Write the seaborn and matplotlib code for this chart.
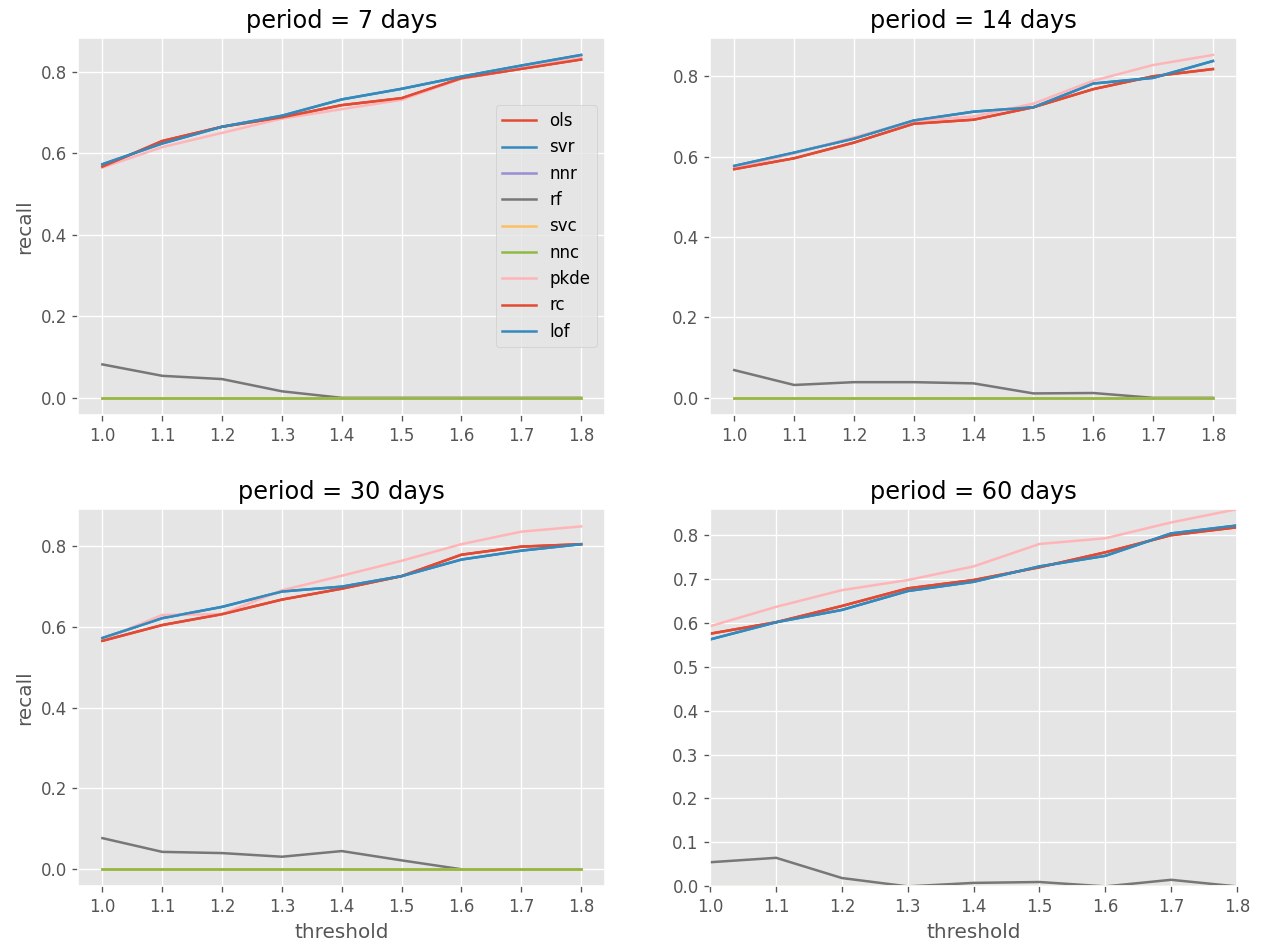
import numpy as np
import pandas as pd
import seaborn as sns
import matplotlib.pyplot as plt

thresholds = [1.0, 1.1, 1.2, 1.3, 1.4, 1.5, 1.6, 1.7, 1.8]
models = ["ols", "svr", "nnr", "rf", "svc", "nnc", "pkde", "rc", "lof"]
periods = [7, 14, 30, 60]

zeros = [0.0] * 9

# period = 7 days
ols_7 = [0.567, 0.630, 0.665, 0.688, 0.718, 0.735, 0.784, 0.807, 0.830]
svr_7 = [0.573, 0.624, 0.665, 0.692, 0.732, 0.758, 0.788, 0.815, 0.841]
rf_7 = [0.082, 0.054, 0.046, 0.016, 0.0, 0.0, 0.0, 0.0, 0.0]
pkde_7 = [0.565, 0.615, 0.650, 0.685, 0.708, 0.731, 0.783, 0.808, 0.835]

# period = 14 days
ols_14 = [0.569, 0.596, 0.635, 0.682, 0.692, 0.723, 0.768, 0.800, 0.818]
svr_14 = [0.577, 0.610, 0.645, 0.690, 0.712, 0.723, 0.782, 0.796, 0.838]
rf_14 = [0.069, 0.032, 0.039, 0.039, 0.036, 0.011, 0.012, 0.0, 0.0]
pkde_14 = [0.572, 0.608, 0.648, 0.688, 0.700, 0.732, 0.789, 0.828, 0.853]

# period = 30 days
ols_30 = [0.565, 0.604, 0.631, 0.667, 0.694, 0.725, 0.778, 0.798, 0.804]
svr_30 = [0.572, 0.621, 0.649, 0.687, 0.699, 0.725, 0.766, 0.788, 0.804]
rf_30 = [0.077, 0.043, 0.040, 0.031, 0.045, 0.022, 0.0, 0.0, 0.0]
pkde_30 = [0.568, 0.629, 0.631, 0.690, 0.726, 0.763, 0.804, 0.835, 0.848]

# period = 60 days
ols_60 = [0.575, 0.601, 0.638, 0.678, 0.697, 0.726, 0.760, 0.799, 0.817]
svr_60 = [0.562, 0.601, 0.629, 0.672, 0.693, 0.728, 0.752, 0.803, 0.821]
rf_60 = [0.055, 0.065, 0.019, 0.0, 0.008, 0.010, 0.0, 0.015, 0.0]
pkde_60 = [0.592, 0.636, 0.674, 0.697, 0.728, 0.779, 0.792, 0.828, 0.858]

results = {
    7: {"ols": ols_7, "svr": svr_7, "nnr": zeros, "rf": rf_7, "svc": zeros,
        "nnc": zeros, "pkde": pkde_7, "rc": ols_7, "lof": svr_7},
    14: {"ols": ols_14, "svr": svr_14, "nnr": zeros, "rf": rf_14, "svc": zeros,
         "nnc": zeros, "pkde": pkde_14, "rc": ols_14, "lof": svr_14},
    30: {"ols": ols_30, "svr": svr_30, "nnr": zeros, "rf": rf_30, "svc": zeros,
         "nnc": zeros, "pkde": pkde_30, "rc": ols_30, "lof": svr_30},
    60: {"ols": ols_60, "svr": svr_60, "nnr": zeros, "rf": rf_60, "svc": zeros,
         "nnc": zeros, "pkde": pkde_60, "rc": ols_60, "lof": svr_60},
}

plt.style.use("ggplot")
colors = ["#E24A33", "#348ABD", "#988ED5", "#777777", "#FBC15E",
          "#8EBA42", "#FFB5B8", "#E24A33", "#348ABD"]

fig, axes = plt.subplots(2, 2, figsize=(1266 / 120, 946 / 120), dpi=120)

for i, (period, ax) in enumerate(zip(periods, axes.flat)):
    rows = []
    for m in models:
        for t, v in zip(thresholds, results[period][m]):
            rows.append([m, t, v])
    df = pd.DataFrame(rows, columns=["model", "threshold", "recall"])

    sns.lineplot(data=df, x="threshold", y="recall", hue="model",
                 hue_order=models, palette=colors, linewidth=1.5,
                 legend=(i == 0), ax=ax)

    ax.set_title(f"period = {period} days", color="black")
    ax.set_xticks(thresholds)
    ax.set_xticklabels([f"{t:.1f}" for t in thresholds])
    ax.set_xlabel("threshold" if i >= 2 else "")
    ax.set_ylabel("recall" if i % 2 == 0 else "")

    if i == 0:
        sns.move_legend(ax, "center right", title=None)
    if period == 60:
        ax.margins(0)
        ax.set_xlim(1.0, 1.8)
        ax.set_ylim(0, None)

plt.subplots_adjust(left=0.062, right=0.977, top=0.960, bottom=0.063,
                    wspace=0.20, hspace=0.25)
plt.savefig("out.png", dpi=120)
